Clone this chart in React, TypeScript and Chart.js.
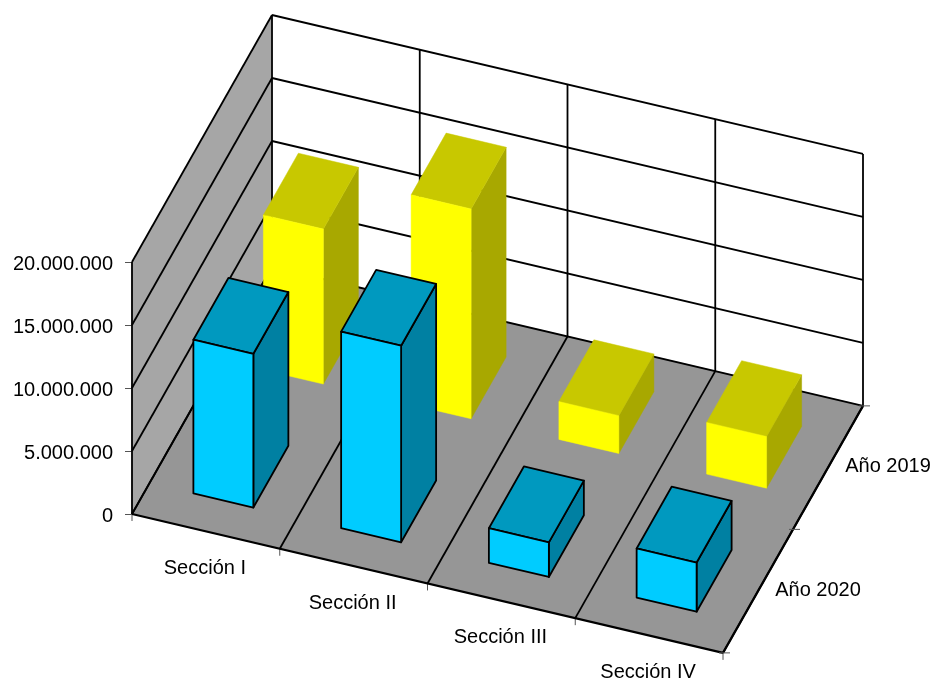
import React, { useEffect, useRef } from "react";
import { Chart, registerables } from "chart.js";

Chart.register(...registerables);

const sections = ["Sección I", "Sección II", "Sección III", "Sección IV"];
const series2019 = [12300000, 16650000, 3000000, 4100000];
const series2020 = [12200000, 15600000, 2750000, 3900000];
const seriesNames = ["Año 2020", "Año 2019"];
const yMax = 20000000;
const yStep = 5000000;

const FONT = '20px "Liberation Sans", Arial, sans-serif';
const depthX = 70; // screen shift of one depth row
const depthY = -123.5;
const FLOOR_SLOPE = 0.235; // screen drop per pixel along the section axis
const BAR_WIDTH = 0.406; // share of a section band
const BAR_DEPTH = 0.5; // share of a depth row
const LINE = 1.8;

const palette = [
  { front: "#00ccff", top: "#0099bf", side: "#0080a2", edge: "#000000" },
  { front: "#ffff00", top: "#c8c800", side: "#a8a800", edge: null as string | null },
];

const formatTick = (v: number) =>
  String(Math.round(v)).replace(/\B(?=(\d{3})+(?!\d))/g, ".");

const poly = (ctx: CanvasRenderingContext2D, pts: number[][], fill: string | null, stroke: string | null, lw = LINE) => {
  ctx.beginPath();
  pts.forEach((p, i) => (i ? ctx.lineTo(p[0], p[1]) : ctx.moveTo(p[0], p[1])));
  ctx.closePath();
  if (fill) {
    ctx.fillStyle = fill;
    ctx.fill();
    if (!stroke) {
      ctx.strokeStyle = fill;
      ctx.lineWidth = 0.5;
      ctx.stroke();
    }
  }
  if (stroke) {
    ctx.strokeStyle = stroke;
    ctx.lineWidth = lw;
    ctx.lineJoin = "round";
    ctx.stroke();
  }
};

const line = (ctx: CanvasRenderingContext2D, a: number[], b: number[], lw = LINE, color = "#000") => {
  ctx.beginPath();
  ctx.moveTo(a[0], a[1]);
  ctx.lineTo(b[0], b[1]);
  ctx.strokeStyle = color;
  ctx.lineWidth = lw;
  ctx.stroke();
};

const projector = (chart: any) => {
  const x = chart.scales.x;
  const y = chart.scales.y;
  const left = x.left;
  const band = x.getPixelForValue(1) - x.getPixelForValue(0);
  const P = (xPix: number, depth: number, value: number) => [
    xPix + depth * depthX,
    y.getPixelForValue(value) + (xPix - left) * FLOOR_SLOPE + depth * depthY,
  ];
  return { x, y, left, band, P };
};

const scene3d = {
  id: "scene3d",
  beforeDatasetsDraw(chart: any) {
    const ctx = chart.ctx;
    const { x, y, left, band, P } = projector(chart);
    const right = x.right;
    const rows = seriesNames.length;
    ctx.save();
    // walls and floor
    poly(ctx, [P(left, 0, 0), P(left, 0, yMax), P(left, rows, yMax), P(left, rows, 0)], "#a6a6a6", null);
    poly(ctx, [P(left, rows, 0), P(left, rows, yMax), P(right, rows, yMax), P(right, rows, 0)], "#ffffff", null);
    poly(ctx, [P(left, 0, 0), P(right, 0, 0), P(right, rows, 0), P(left, rows, 0)], "#969696", null);
    // horizontal grid
    y.ticks.forEach((t: any) => {
      line(ctx, P(left, 0, t.value), P(left, rows, t.value));
      line(ctx, P(left, rows, t.value), P(right, rows, t.value));
    });
    // section grid
    for (let i = 0; i <= sections.length; i++) {
      const px = left + i * band;
      line(ctx, P(px, rows, 0), P(px, rows, yMax));
      line(ctx, P(px, 0, 0), P(px, rows, 0));
      const a = P(px, 0, 0);
      line(ctx, a, [a[0], a[1] + 7], 1, "#555");
    }
    // outer edges
    line(ctx, P(left, 0, 0), P(left, 0, yMax));
    line(ctx, P(left, 0, 0), P(right, 0, 0), 2.2);
    line(ctx, P(right, 0, 0), P(right, rows, 0), 2.2);
    for (let d = 0; d <= rows; d++) {
      const a = P(right, d, 0);
      line(ctx, [a[0] - 4, a[1]], [a[0] + 7, a[1]], 1, "#555");
    }
    ctx.restore();
  },
  afterDatasetsDraw(chart: any) {
    const ctx = chart.ctx;
    const { x, band, P } = projector(chart);
    const rows = seriesNames.length;
    ctx.save();
    // back row first so the front row covers it
    for (let row = rows - 1; row >= 0; row--) {
      const ds = chart.data.datasets[row];
      const c = palette[row];
      const d0 = row + (1 - BAR_DEPTH) / 2;
      const d1 = d0 + BAR_DEPTH;
      ds.data.forEach((value: number, i: number) => {
        const cx = x.getPixelForValue(i);
        const xa = cx - (band * BAR_WIDTH) / 2;
        const xb = cx + (band * BAR_WIDTH) / 2;
        poly(ctx, [P(xb, d0, 0), P(xb, d1, 0), P(xb, d1, value), P(xb, d0, value)], c.side, c.edge);
        poly(ctx, [P(xa, d0, value), P(xb, d0, value), P(xb, d1, value), P(xa, d1, value)], c.top, c.edge);
        poly(ctx, [P(xa, d0, 0), P(xb, d0, 0), P(xb, d0, value), P(xa, d0, value)], c.front, c.edge);
      });
    }
    // axis labels
    ctx.fillStyle = "#000";
    ctx.font = FONT;
    ctx.textAlign = "center";
    ctx.textBaseline = "middle";
    sections.forEach((label, i) => {
      const p = P(x.getPixelForValue(i), 0, 0);
      ctx.fillText(label, p[0] - 1, p[1] + 37);
    });
    seriesNames.forEach((label, row) => {
      const p = P(x.right, row + 0.5, 0);
      ctx.fillText(label, p[0] + 60, p[1] - 1);
    });
    ctx.restore();
  },
};

export default function App() {
  const ref = useRef<HTMLCanvasElement>(null);
  useEffect(() => {
    const chart = new Chart(ref.current as HTMLCanvasElement, {
      type: "bar",
      data: {
        labels: sections,
        datasets: [
          { label: seriesNames[0], data: series2020, backgroundColor: "transparent" },
          { label: seriesNames[1], data: series2019, backgroundColor: "transparent" },
        ],
      },
      plugins: [scene3d],
      options: {
        responsive: false,
        animation: false,
        events: [],
        layout: { padding: { left: 0, top: 262, right: 210, bottom: 168 } },
        plugins: { legend: { display: false }, tooltip: { enabled: false }, title: { display: false } },
        scales: {
          x: {
            type: "category",
            offset: true,
            grid: { display: false, drawTicks: false },
            border: { display: false },
            ticks: { display: false },
            afterFit: (s: any) => {
              s.height = 0;
            },
          },
          y: {
            type: "linear",
            min: 0,
            max: yMax,
            grid: { drawOnChartArea: false, drawTicks: true, tickLength: 7, color: "#555" },
            border: { display: false },
            ticks: {
              stepSize: yStep,
              color: "#000",
              padding: 12,
              labelOffset: 2,
              font: { family: '"Liberation Sans", Arial, sans-serif', size: 20 },
              callback: (v: any) => formatTick(Number(v)),
            },
            afterFit: (s: any) => {
              s.width = 132;
            },
          },
        },
      },
    } as any);
    return () => chart.destroy();
  }, []);
  return (
    <canvas
      ref={ref}
      width={933}
      height={682}
      style={{ position: "absolute", left: 0, top: 0, display: "block" }}
    />
  );
}
